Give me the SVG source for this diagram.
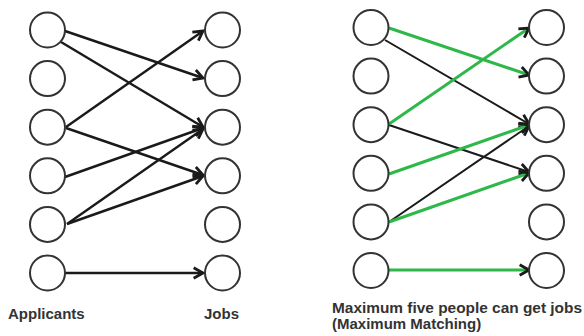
<svg xmlns="http://www.w3.org/2000/svg" width="584" height="336" viewBox="0 0 584 336">
<style>
.node circle{fill:#fff;stroke:#333;stroke-width:2}
.e{fill:none;stroke:#1a1a1a;stroke-width:2.4;marker-end:url(#arr)}
.g{fill:none;stroke:#2eb84a;stroke-width:3;marker-end:url(#arr)}
.k{fill:none;stroke:#1a1a1a;stroke-width:2;marker-end:url(#arr)}
.lbl{font-family:"Liberation Sans",Arial,sans-serif;font-weight:bold;font-size:15px;fill:#333}
</style>
<defs>
<marker id="arr" markerUnits="userSpaceOnUse" markerWidth="14" markerHeight="14" viewBox="-10 -6 12 12" refX="0" refY="0" orient="auto">
<path d="M-8,-4.5 L0,0 L-8,4.5" fill="none" stroke="#1a1a1a" stroke-width="2.4" stroke-linejoin="miter"/>
</marker>
</defs>
<rect width="584" height="336" fill="#fff"/>
<g id="connectors">
<line class="e" x1="65" y1="31" x2="203" y2="78"/>
<line class="e" x1="61" y1="42" x2="203" y2="127"/>
<line class="e" x1="66" y1="127" x2="203" y2="31"/>
<line class="e" x1="66" y1="128" x2="203" y2="175"/>
<line class="e" x1="65" y1="177" x2="203" y2="128"/>
<line class="e" x1="67" y1="224" x2="203" y2="129"/>
<line class="e" x1="67" y1="224" x2="203" y2="176"/>
<line class="e" x1="65" y1="273" x2="203" y2="273"/>
<line class="k" x1="385" y1="40" x2="529" y2="124"/>
<line class="k" x1="389" y1="125" x2="529" y2="172"/>
<line class="k" x1="389" y1="222" x2="529" y2="126"/>
<line class="g" x1="389" y1="28" x2="529" y2="75"/>
<line class="g" x1="389" y1="124" x2="529" y2="28"/>
<line class="g" x1="389" y1="174" x2="529" y2="125"/>
<line class="g" x1="389" y1="222" x2="529" y2="173"/>
<line class="g" x1="389" y1="270" x2="529" y2="270"/>
</g>
<g id="L-A1" class="node"><circle cx="47.5" cy="30" r="17.5"/></g>
<g id="L-A2" class="node"><circle cx="47.5" cy="78.6" r="17.5"/></g>
<g id="L-A3" class="node"><circle cx="47.5" cy="127.2" r="17.5"/></g>
<g id="L-A4" class="node"><circle cx="47.5" cy="175.8" r="17.5"/></g>
<g id="L-A5" class="node"><circle cx="47.5" cy="224.4" r="17.5"/></g>
<g id="L-A6" class="node"><circle cx="47.5" cy="273" r="17.5"/></g>
<g id="L-J1" class="node"><circle cx="222.5" cy="30" r="17.5"/></g>
<g id="L-J2" class="node"><circle cx="222.5" cy="78.6" r="17.5"/></g>
<g id="L-J3" class="node"><circle cx="222.5" cy="127.2" r="17.5"/></g>
<g id="L-J4" class="node"><circle cx="222.5" cy="175.8" r="17.5"/></g>
<g id="L-J5" class="node"><circle cx="222.5" cy="224.4" r="17.5"/></g>
<g id="L-J6" class="node"><circle cx="222.5" cy="273" r="17.5"/></g>
<g id="R-A1" class="node"><circle cx="371" cy="27.5" r="17.5"/></g>
<g id="R-A2" class="node"><circle cx="371" cy="76.1" r="17.5"/></g>
<g id="R-A3" class="node"><circle cx="371" cy="124.7" r="17.5"/></g>
<g id="R-A4" class="node"><circle cx="371" cy="173.3" r="17.5"/></g>
<g id="R-A5" class="node"><circle cx="371" cy="221.9" r="17.5"/></g>
<g id="R-A6" class="node"><circle cx="371" cy="270.5" r="17.5"/></g>
<g id="R-J1" class="node"><circle cx="546.5" cy="27.5" r="17.5"/></g>
<g id="R-J2" class="node"><circle cx="546.5" cy="76.1" r="17.5"/></g>
<g id="R-J3" class="node"><circle cx="546.5" cy="124.7" r="17.5"/></g>
<g id="R-J4" class="node"><circle cx="546.5" cy="173.3" r="17.5"/></g>
<g id="R-J5" class="node"><circle cx="546.5" cy="221.9" r="17.5"/></g>
<g id="R-J6" class="node"><circle cx="546.5" cy="270.5" r="17.5"/></g>
<g id="labels">
<text class="lbl" x="8" y="319">Applicants</text>
<text class="lbl" x="204" y="319">Jobs</text>
<text class="lbl" x="332" y="313" textLength="250" lengthAdjust="spacingAndGlyphs">Maximum five people can get jobs</text>
<text class="lbl" x="332" y="329">(Maximum Matching)</text>
</g>
</svg>
